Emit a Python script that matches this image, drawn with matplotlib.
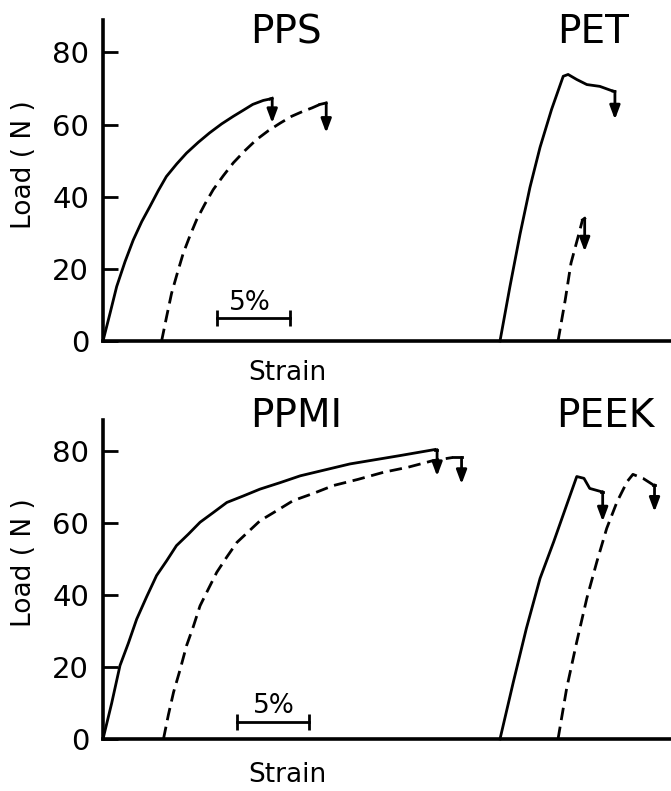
import matplotlib
matplotlib.use("Agg")
import matplotlib.pyplot as plt

# strain (%) / load (N)
pps_a_x = [0, 0.49, 0.95, 1.53, 2.1, 2.69, 3.26, 3.84, 4.4, 5.12, 5.8, 6.62, 7.4, 8.24, 9.05, 9.75, 10.4, 11.13, 11.6]
pps_a_y = [0, 7.7, 15.1, 22.0, 28.0, 33.1, 37.3, 41.7, 45.6, 49.1, 52.1, 55.1, 57.7, 60.2, 62.3, 64.0, 65.6, 66.7, 67.1]
pps_a_brk = (11.75, 67.3, 60.4)
pps_b_x = [4.07, 4.42, 4.76, 5.16, 5.57, 6.04, 6.5, 7.08, 7.66, 8.35, 9.05, 9.86, 10.65, 11.48, 12.3, 13.1, 13.9, 14.5, 15.07]
pps_b_y = [0, 6.8, 13.2, 18.8, 24.3, 29.2, 33.6, 38.0, 42.0, 45.8, 49.4, 52.8, 55.8, 58.3, 60.4, 62.3, 63.7, 64.6, 65.6]
pps_b_brk = (15.5, 66.0, 57.7)

pet_a_x = [27.57, 28.26, 28.96, 29.65, 30.35, 31.15, 31.96, 32.3, 32.9, 33.6, 34.5, 35.4]
pet_a_y = [0, 15.1, 29.6, 42.6, 53.7, 64.2, 73.4, 73.9, 72.5, 71.1, 70.6, 69.3]
pet_a_brk = (35.55, 69.2, 61.4)
pet_b_x = [31.6, 32.1, 32.5, 33.0, 33.3]
pet_b_y = [0, 11.4, 21.6, 29.0, 33.6]
pet_b_brk = (33.45, 34.0, 24.8)

ppmi_a_x = [0, 0.6, 1.18, 1.76, 2.34, 3.03, 3.72, 4.42, 5.1, 5.93, 6.74, 7.66, 8.6, 9.74, 10.9, 12.3, 13.7, 17.15, 20.6, 23.05]
ppmi_a_y = [0, 9.9, 20.4, 26.6, 33.3, 39.5, 45.4, 49.5, 53.7, 56.9, 60.2, 62.9, 65.7, 67.5, 69.4, 71.2, 73.1, 76.4, 78.7, 80.4]
ppmi_a_brk = (23.2, 80.4, 73.0)
ppmi_b_x = [4.2, 4.54, 4.9, 5.35, 5.8, 6.27, 6.74, 7.31, 7.9, 8.59, 9.3, 10.1, 10.9, 12.06, 13.2, 14.6, 16.0, 17.7, 19.5, 21.2, 22.9, 24.3]
ppmi_b_y = [0, 6.7, 13.0, 19.2, 25.9, 31.2, 37.0, 41.6, 46.3, 50.5, 54.6, 57.6, 60.6, 63.4, 66.2, 68.2, 70.4, 72.1, 74.1, 75.5, 77.3, 78.2]
ppmi_b_brk = (24.9, 78.2, 70.8)

peek_a_x = [27.57, 28.5, 29.4, 30.35, 31.3, 32.2, 32.9, 33.4, 33.8, 34.6]
peek_a_y = [0, 15.9, 30.7, 44.6, 54.8, 65.0, 72.9, 72.4, 69.6, 68.7]
peek_a_brk = (34.7, 68.7, 60.4)
peek_b_x = [31.6, 32.2, 32.9, 33.6, 34.3, 34.98, 35.7, 36.4, 36.8, 37.5, 38.2]
peek_b_y = [0, 14.1, 27.0, 39.1, 49.3, 58.5, 65.9, 71.5, 73.5, 72.4, 70.6]
peek_b_brk = (38.3, 70.6, 63.1)

yticks = [0, 20, 40, 60, 80]

W, H = 671, 791
fig = plt.figure(figsize=(W / 100, H / 100), dpi=100)
LW = 2.0


def px_axes(left, bottom, right, top):
    return fig.add_axes([left / W, 1 - bottom / H, (right - left) / W, (bottom - top) / H])


def draw_curve(ax, xs, ys, brk, dashed):
    ls = (0, (4.5, 2.4)) if dashed else "-"
    ax.plot(xs, ys, color="black", lw=LW, ls=ls, clip_on=False, solid_joinstyle="round")
    bx, btop, bbot = brk
    ax.plot([xs[-1], bx], [ys[-1], btop], color="black", lw=LW, clip_on=False)
    ax.annotate("", xy=(bx, bbot), xytext=(bx, btop),
                arrowprops=dict(arrowstyle="-|>,head_length=0.75,head_width=0.28", lw=LW,
                                color="black", shrinkA=0, shrinkB=0, mutation_scale=11))


def setup(ax, ymax):
    ax.set_xlim(0, 568 / 14.4)
    ax.set_ylim(0, ymax)
    for s in ["top", "right"]:
        ax.spines[s].set_visible(False)
    for s in ["left", "bottom"]:
        ax.spines[s].set_linewidth(2.6)
    ax.set_xticks([])
    ax.set_yticks(yticks)
    ax.tick_params(axis="y", direction="in", length=10.5, width=2.0, pad=10, labelsize=21)


top = px_axes(103, 341, 671, 20)
setup(top, 89)
draw_curve(top, pps_a_x, pps_a_y, pps_a_brk, False)
draw_curve(top, pps_b_x, pps_b_y, pps_b_brk, True)
draw_curve(top, pet_a_x, pet_a_y, pet_a_brk, False)
draw_curve(top, pet_b_x, pet_b_y, pet_b_brk, True)
top.text(12.7, 85.6, "PPS", fontsize=28, ha="center", va="center")
top.text(34.0, 85.6, "PET", fontsize=28, ha="center", va="center")
top.plot([7.94, 12.99], [6.3, 6.3], color="black", lw=LW, marker="|", ms=11, mew=LW)
top.text(10.2, 10.6, "5%", fontsize=19, ha="center", va="center")

bot = px_axes(103, 739, 671, 420)
setup(bot, 88.6)
draw_curve(bot, ppmi_a_x, ppmi_a_y, ppmi_a_brk, False)
draw_curve(bot, ppmi_b_x, ppmi_b_y, ppmi_b_brk, True)
draw_curve(bot, peek_a_x, peek_a_y, peek_a_brk, False)
draw_curve(bot, peek_b_x, peek_b_y, peek_b_brk, True)
bot.text(13.4, 89.7, "PPMI", fontsize=28, ha="center", va="center")
bot.text(34.9, 89.7, "PEEK", fontsize=28, ha="center", va="center")
bot.plot([9.28, 14.33], [4.8, 4.8], color="black", lw=LW, marker="|", ms=11, mew=LW)
bot.text(11.9, 9.3, "5%", fontsize=19, ha="center", va="center")

fig.text(287 / W, 1 - 373 / H, "Strain", fontsize=19, ha="center", va="center")
fig.text(287 / W, 1 - 775 / H, "Strain", fontsize=19, ha="center", va="center")
fig.text(24 / W, 1 - 165 / H, "Load ( N )", fontsize=19, rotation=90, ha="center", va="center")
fig.text(24 / W, 1 - 563 / H, "Load ( N )", fontsize=19, rotation=90, ha="center", va="center")

fig.savefig("out.png", dpi=100)
